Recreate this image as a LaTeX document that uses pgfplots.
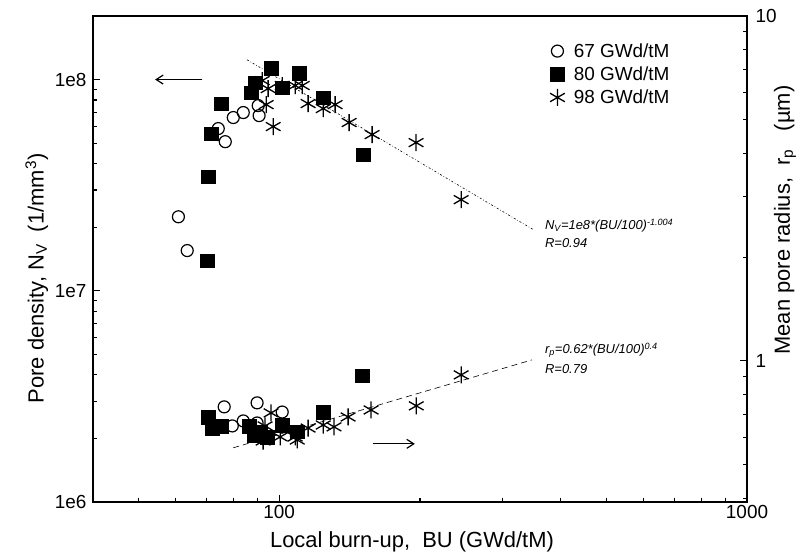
\documentclass[border=0pt]{standalone}
\usepackage{pgfplots}
\pgfplotsset{compat=1.18}
\usepackage{fontspec}
\setmainfont{Liberation Sans}
\setsansfont{Liberation Sans}
\usetikzlibrary{arrows.meta}

\pgfplotstableread{
bu nv
60.9 2.24e7
63.6 1.55e7
74.1 5.86e7
76.7 5.08e7
79.8 6.61e7
83.8 6.98e7
90.2 7.53e7
90.6 6.75e7
}\circU
\pgfplotstableread{
bu nv
70.2 1.39e7
70.5 3.47e7
71.6 5.55e7
75.2 7.70e7
87.1 8.68e7
88.9 9.68e7
96.1 1.13e8
101.5 9.16e7
110.3 1.07e8
124.2 8.21e7
151.2 4.41e7
}\squU
\pgfplotstableread{
bu nv
92.0 9.89e7
94.7 9.06e7
93.8 7.61e7
97.1 5.99e7
101.5 9.37e7
108.2 9.37e7
112.0 9.37e7
115.3 7.70e7
124.2 7.29e7
131.7 7.61e7
141.1 6.26e7
158.0 5.49e7
196.2 5.03e7
244.9 2.70e7
}\starU
\pgfplotstableread{
bu r
76.3 0.736
89.7 0.756
83.8 0.670
79.4 0.648
89.7 0.661
101.5 0.711
}\circL
\pgfplotstableread{
bu r
70.5 0.688
71.9 0.639
75.2 0.648
86.3 0.648
88.4 0.610
91.1 0.623
94.3 0.602
101.5 0.652
109.3 0.623
124.2 0.711
150.4 0.905
}\squL
\pgfplotstableread{
bu r
96.1 0.707
93.3 0.648
92.4 0.586
100.5 0.602
108.2 0.602
109.3 0.590
115.3 0.639
124.2 0.652
131.0 0.644
140.4 0.688
157.2 0.721
196.4 0.741
244.9 0.911
}\starL

\pgfplotsset{
  mycirc/.style={only marks, mark=o, mark size=6bp, mark options={line width=1.2bp, black}},
  mysq/.style={only marks, mark=square*, mark size=6.8bp, mark options={black, fill=black}},
  mystar/.style={only marks, mark=asterisk, mark size=8.5bp, mark options={line width=1.3bp, black}},
}

\begin{document}
\begin{tikzpicture}
\begin{axis}[
  at={(0,0)}, anchor=south west,
  scale only axis, width=654bp, height=486bp,
  xmode=log, ymode=log,
  xmin=40, xmax=1000, ymin=1e6, ymax=2e8,
  xtick={100,1000}, xticklabels={100,1000},
  minor xtick={40,50,60,70,80,90,200,300,400,500,600,700,800,900},
  ytick={1e6,1e7,1e8}, yticklabels={1e6,1e7,1e8},
  minor ytick={2e6,3e6,4e6,5e6,6e6,7e6,8e6,9e6,2e7,3e7,4e7,5e7,6e7,7e7,8e7,9e7},
  xtick pos=bottom, ytick pos=left,
  tick align=inside,
  major tick length=7bp, minor tick length=4bp,
  axis line style={line width=1.3bp},
  every tick/.style={black, line width=1.1bp},
  tick label style={font=\fontsize{19}{19}\selectfont},
  yticklabel style={xshift=-3bp},
  label style={font=\fontsize{22}{22}\selectfont},
  xlabel={Local burn-up,\ \ BU (GWd/tM)},
  xlabel style={yshift=-6bp, xshift=-8bp},
  ylabel={Pore density, N\textsubscript{V}\ \ (1/mm\textsuperscript{3})},
  ylabel style={at={(ticklabel cs:0.46)}},
  legend style={draw=none, fill=none, at={(0.694,0.952)}, anchor=north west,
    font=\fontsize{19}{19}\selectfont, row sep=4bp,
    /tikz/every odd column/.append style={column sep=7bp}},
  legend cell align=left,
]
\addplot[mycirc] table[x=bu,y=nv]{\circU};
\addlegendentry{67 GWd/tM}
\addplot[mysq] table[x=bu,y=nv]{\squU};
\addlegendentry{80 GWd/tM}
\addplot[mystar] table[x=bu,y=nv]{\starU};
\addlegendentry{98 GWd/tM}
\addplot[black, line width=0.6bp, dash pattern=on 2bp off 2bp on 0.6bp off 2bp, forget plot] coordinates {(85.4,1.24e8) (349,1.95e7)};
\draw[-{Straight Barb[length=7bp,width=9bp]}, line width=1.2bp] (axis cs:68.5,1e8) -- (axis cs:54.3,1e8);
\node[anchor=base west, font=\fontsize{13}{13}\selectfont\itshape, inner sep=0pt] at (rel axis cs:0.691,0.560) {N\textsubscript{V}=1e8*(BU/100)\textsuperscript{-1.004}};
\node[anchor=base west, font=\fontsize{13}{13}\selectfont\itshape, inner sep=0pt] at (rel axis cs:0.691,0.523) {R=0.94};
\node[anchor=base west, font=\fontsize{13}{13}\selectfont\itshape, inner sep=0pt] at (rel axis cs:0.691,0.305) {r\textsubscript{p}=0.62*(BU/100)\textsuperscript{0.4}};
\node[anchor=base west, font=\fontsize{13}{13}\selectfont\itshape, inner sep=0pt] at (rel axis cs:0.691,0.265) {R=0.79};
\end{axis}
\begin{axis}[
  at={(0,0)}, anchor=south west,
  scale only axis, width=654bp, height=486bp,
  xmode=log, ymode=log,
  xmin=40, xmax=1000, ymin=0.39, ymax=10,
  axis x line=none,
  axis y line*=right,
  ytick={1,10}, yticklabels={1,10},
  minor ytick={0.4,0.5,0.6,0.7,0.8,0.9,2,3,4,5,6,7,8,9},
  tick align=inside,
  major tick length=7bp, minor tick length=4bp,
  axis line style={line width=1.3bp},
  every tick/.style={black, line width=1.1bp},
  tick label style={font=\fontsize{19}{19}\selectfont},
  yticklabel style={xshift=5bp},
]
\addplot[mycirc] table[x=bu,y=r]{\circL};
\addplot[mysq] table[x=bu,y=r]{\squL};
\addplot[mystar] table[x=bu,y=r]{\starL};
\addplot[black, line width=0.6bp, dash pattern=on 6bp off 4bp] coordinates {(79.8,0.560) (347,1.007)};
\draw[-{Straight Barb[length=7bp,width=9bp]}, line width=1.2bp] (axis cs:158.7,0.575) -- (axis cs:195,0.575);
\end{axis}
\node[rotate=90, font=\fontsize{22}{22}\selectfont] at (692bp,282bp) {Mean pore radius,\ \ r\textsubscript{p}\ \ \ (µm)};
\pgfresetboundingbox
\path[use as bounding box] (-93bp,-58bp) rectangle (709bp,502bp);
\end{tikzpicture}
\end{document}
